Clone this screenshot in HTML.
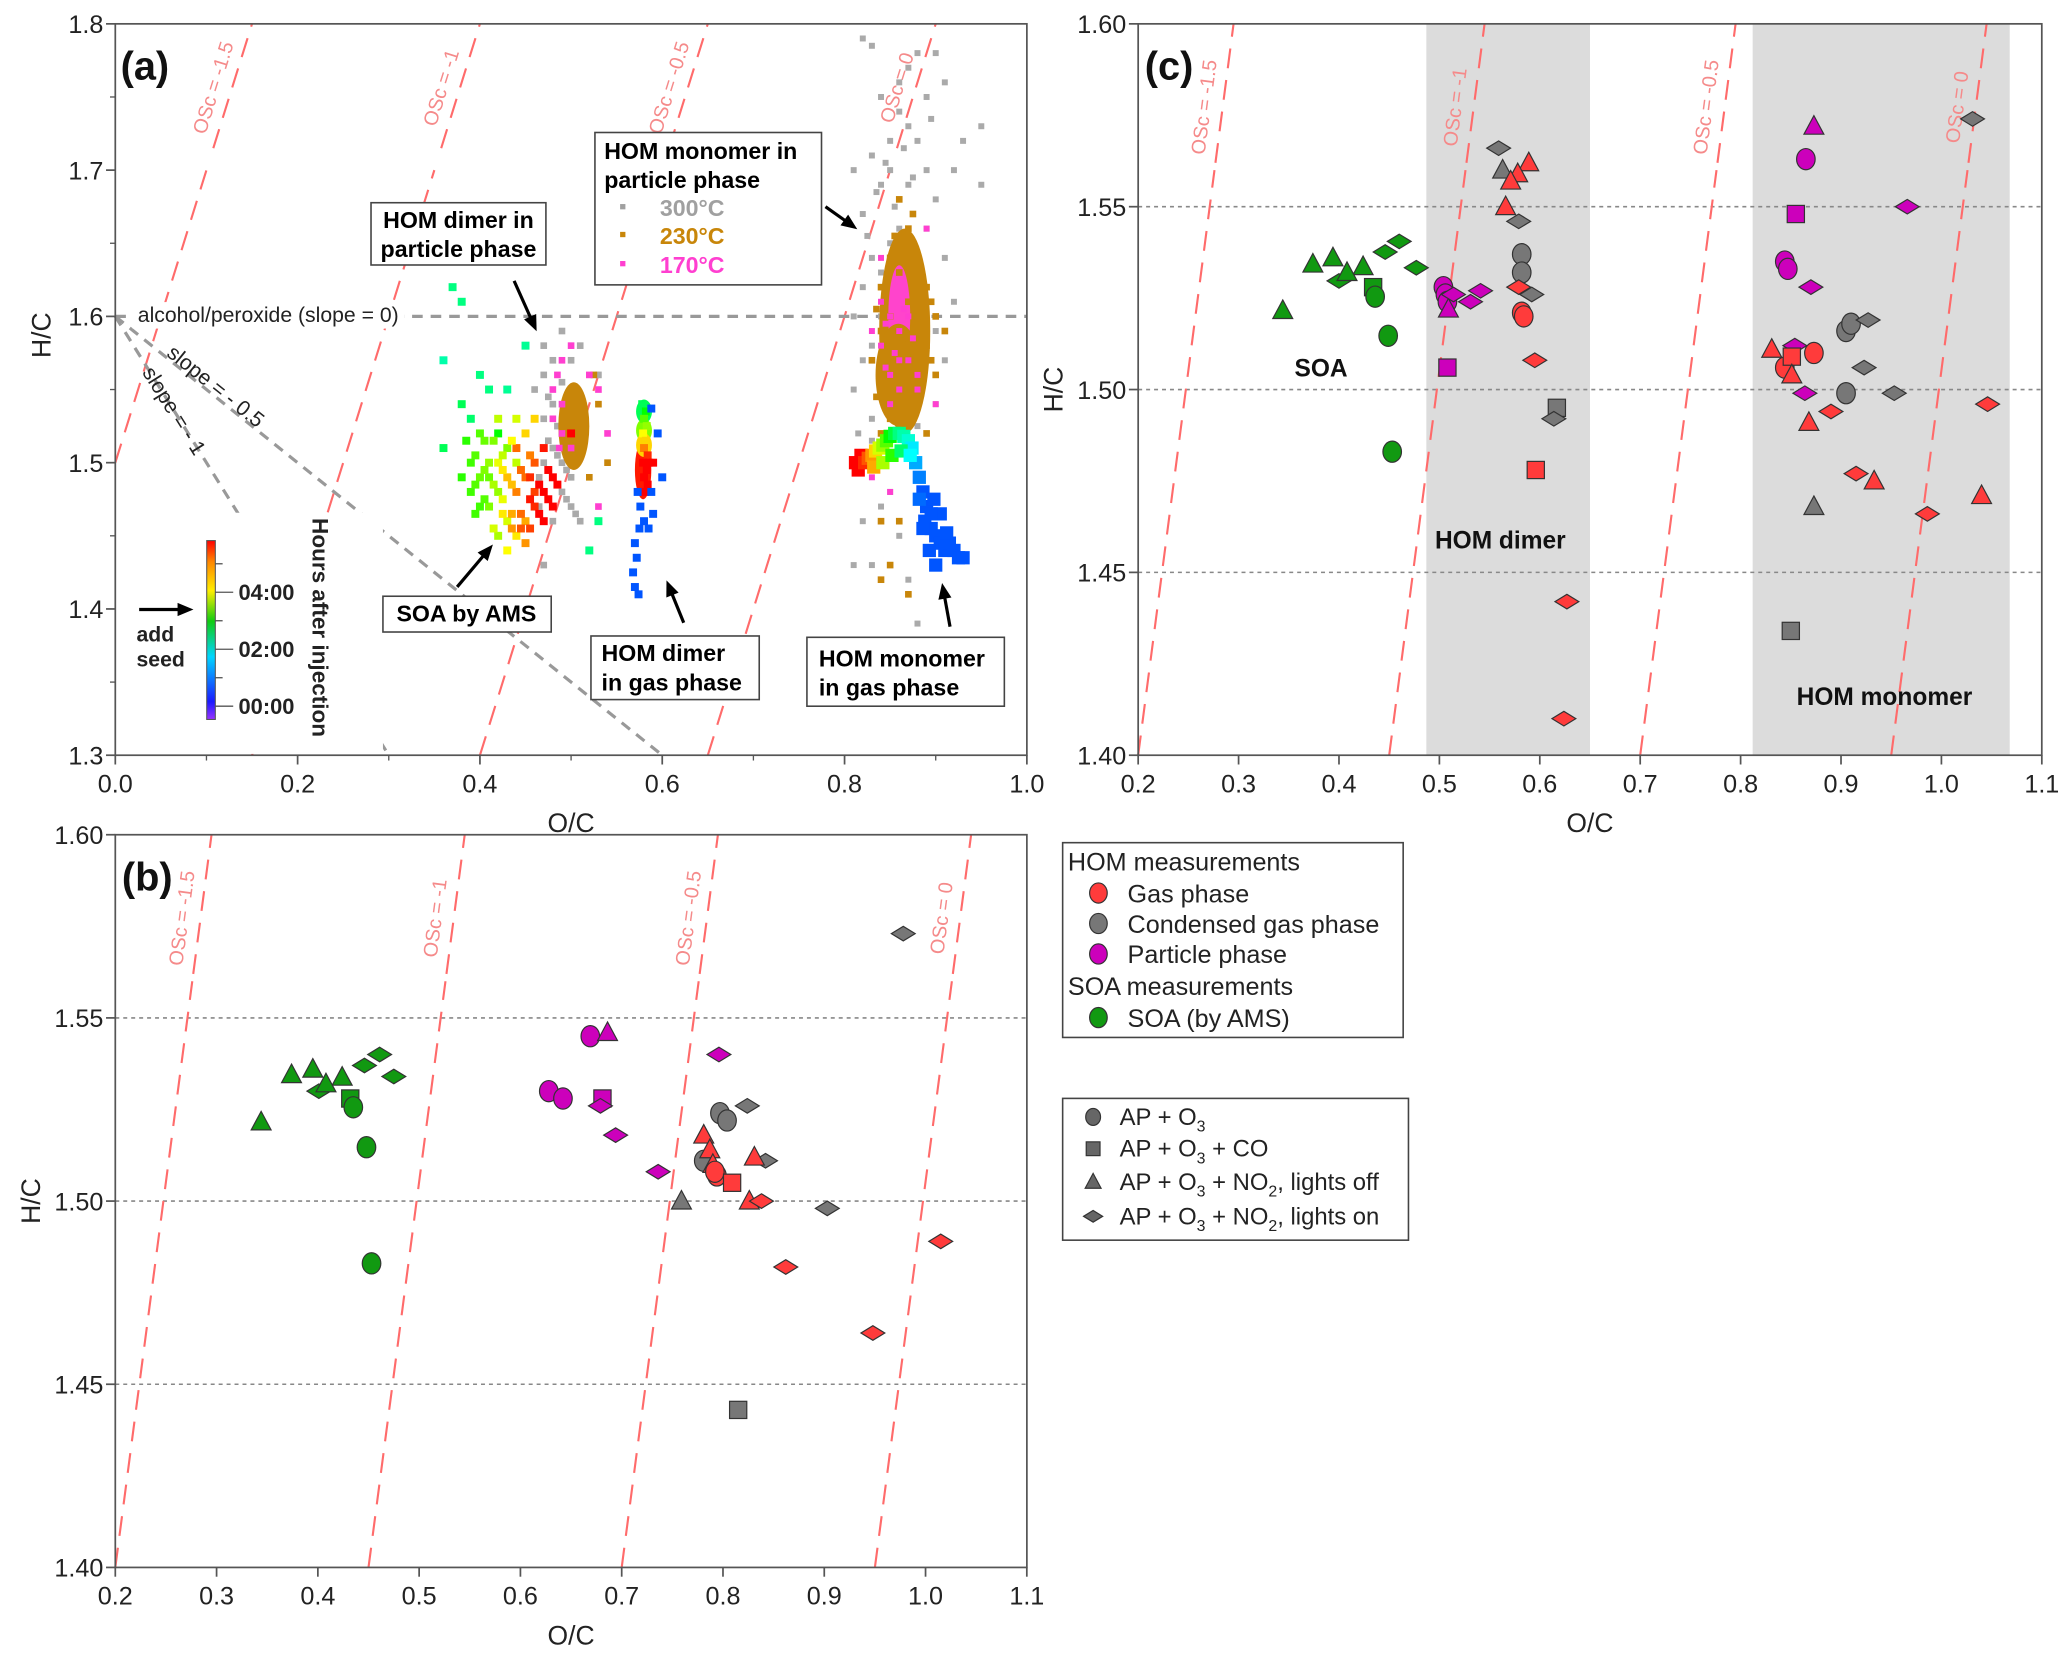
<!DOCTYPE html>
<html><head><meta charset="utf-8"><style>
html,body{margin:0;padding:0;background:#fff}
svg{display:block}
text{font-family:"Liberation Sans",Arial,sans-serif}
</style></head><body>
<svg id="fig" width="2067" height="1657" viewBox="0 0 1560 1250.6" xmlns="http://www.w3.org/2000/svg">
<rect x="0" y="0" width="1560" height="1251" fill="#fff"/>
<g id="pa"></g>
<g id="pc"></g>
<g id="pb"></g>
<g id="lg"></g>
</svg>
<script>
// ---------- DATA ----------
const monoGray=[[0.82,1.79],[0.83,1.785],[0.88,1.78],[0.87,1.77],[0.9,1.78],[0.84,1.75],[0.86,1.74],[0.91,1.76],[0.95,1.73],[0.83,1.71],[0.85,1.72],[0.88,1.72],[0.92,1.70],[0.81,1.70],[0.84,1.69],[0.87,1.69],[0.90,1.68],[0.95,1.69],[0.82,1.67],[0.86,1.66],[0.89,1.66],[0.83,1.64],[0.85,1.65],[0.91,1.64],[0.82,1.62],[0.88,1.62],[0.92,1.61],[0.81,1.60],[0.84,1.60],[0.90,1.59],[0.82,1.57],[0.91,1.57],[0.81,1.55],[0.84,1.55],[0.90,1.54],[0.83,1.53],[0.82,1.46],[0.84,1.47],[0.83,1.43],[0.81,1.43],[0.87,1.42],[0.88,1.39],[0.86,1.45],[0.85,1.48],[0.83,1.50],[0.85,1.70],[0.87,1.73],[0.89,1.75],[0.93,1.72],[0.86,1.68],[0.84,1.63],[0.83,1.58],[0.86,1.76],[0.89,1.70],[0.845,1.705],[0.865,1.715],[0.875,1.695],[0.835,1.685],[0.855,1.675],[0.895,1.735],[0.825,1.655],[0.815,1.52],[0.83,1.515],[0.88,1.525]];
const monoOrange=[[0.86,1.68],[0.87,1.66],[0.85,1.64],[0.88,1.64],[0.86,1.63],[0.84,1.62],[0.89,1.62],[0.87,1.61],[0.85,1.60],[0.88,1.60],[0.84,1.59],[0.86,1.58],[0.89,1.58],[0.85,1.57],[0.87,1.56],[0.84,1.55],[0.88,1.55],[0.86,1.54],[0.85,1.53],[0.87,1.53],[0.89,1.52],[0.84,1.52],[0.90,1.60],[0.90,1.56],[0.83,1.57],[0.86,1.46],[0.84,1.46],[0.85,1.43],[0.87,1.41],[0.84,1.42],[0.91,1.59],[0.86,1.65],[0.88,1.58],[0.85,1.555],[0.87,1.585],[0.835,1.605],[0.895,1.61],[0.895,1.57],[0.835,1.545],[0.875,1.67],[0.855,1.655]];
const monoMagenta=[[0.85,1.60],[0.86,1.59],[0.84,1.58],[0.87,1.57],[0.85,1.56],[0.86,1.55],[0.84,1.61],[0.87,1.60],[0.85,1.54],[0.86,1.57],[0.88,1.55],[0.83,1.59],[0.89,1.66],[0.84,1.64],[0.83,1.49],[0.85,1.48],[0.90,1.54],[0.86,1.52],[0.845,1.595],[0.875,1.585],[0.855,1.575],[0.865,1.605],[0.845,1.565],[0.88,1.56]];
const dimGray=[[0.47,1.58],[0.48,1.57],[0.47,1.56],[0.46,1.55],[0.48,1.54],[0.47,1.53],[0.49,1.52],[0.48,1.51],[0.49,1.50],[0.50,1.49],[0.49,1.48],[0.50,1.47],[0.51,1.46],[0.48,1.49],[0.47,1.50],[0.53,1.56],[0.49,1.59],[0.47,1.43],[0.51,1.58],[0.475,1.545],[0.485,1.525],[0.485,1.505],[0.495,1.495],[0.495,1.475],[0.505,1.465],[0.475,1.515],[0.465,1.49],[0.465,1.47],[0.48,1.46],[0.49,1.555],[0.5,1.57]];
const dimMagenta=[[0.49,1.57],[0.48,1.55],[0.49,1.54],[0.48,1.53],[0.49,1.52],[0.50,1.51],[0.52,1.56],[0.53,1.55],[0.50,1.58],[0.54,1.52],[0.53,1.47],[0.485,1.56],[0.487,1.51]];
const dimOrange=[[0.53,1.54],[0.52,1.49],[0.54,1.50],[0.525,1.56]];
const soaPts=[[0.37,1.62],[0.38,1.61],[0.36,1.57],[0.40,1.56],[0.41,1.55],[0.43,1.55],[0.38,1.54],[0.39,1.53],[0.42,1.52],[0.45,1.58],[0.40,1.52],[0.43,1.51],[0.39,1.50],[0.41,1.49],[0.44,1.50],[0.42,1.48],[0.45,1.49],[0.40,1.47],[0.43,1.46],[0.46,1.47],[0.44,1.45],[0.42,1.45],[0.47,1.48],[0.48,1.49],[0.46,1.50],[0.45,1.52],[0.47,1.51],[0.44,1.53],[0.41,1.50],[0.39,1.48],[0.43,1.44],[0.45,1.46],[0.47,1.46],[0.46,1.53],[0.38,1.49],[0.42,1.50],[0.44,1.48],[0.40,1.49],[0.46,1.48],[0.48,1.47],[0.45,1.445],[0.41,1.47],[0.43,1.49],[0.44,1.51],[0.42,1.53],[0.36,1.51],[0.53,1.46],[0.50,1.52],[0.52,1.44],
[0.395,1.505],[0.405,1.495],[0.415,1.485],[0.425,1.475],[0.435,1.465],[0.445,1.455],[0.455,1.475],[0.465,1.485],[0.475,1.495],[0.455,1.505],[0.435,1.515],[0.425,1.505],[0.415,1.515],[0.405,1.475],[0.395,1.465],[0.415,1.455],[0.435,1.485],[0.445,1.495],[0.455,1.49],[0.465,1.465],[0.425,1.495],[0.385,1.515],[0.405,1.515],[0.435,1.455],[0.455,1.455],[0.445,1.465],[0.425,1.465],[0.475,1.475],[0.485,1.485],[0.395,1.485]];
const soaHrs=[2,2,1.8,2,2,1.9,2.2,2.1,2.6,1.9,3,3.2,2.9,3.1,3.5,3.3,4.5,2.9,3.6,4.8,3.9,3.4,5,5,4.6,4,4.9,3.6,3.3,2.9,3.8,4.2,5,4,2.8,3.7,4.4,3.1,4.7,5,4.3,3.2,4.1,4.5,3.5,2.2,2,5,2,
3,3.2,3.4,3.7,4.2,4.6,4.9,5,5,4.4,3.8,3.5,3.2,3,2.9,3.6,4.1,4.5,4.8,5,3.9,2.8,3.1,4.3,4.7,4.5,3.9,5,5,3];
const gdPts=[[0.578,1.54],[0.582,1.535],[0.580,1.53],[0.583,1.525],[0.579,1.52],[0.582,1.515],[0.580,1.51],[0.584,1.505],[0.579,1.50],[0.583,1.495],[0.580,1.49],[0.584,1.485],[0.581,1.48],[0.585,1.50],[0.590,1.50],[0.600,1.49],[0.576,1.47],[0.580,1.46],[0.575,1.455],[0.570,1.445],[0.572,1.435],[0.568,1.425],[0.570,1.415],[0.574,1.41],[0.590,1.465],[0.585,1.455],[0.595,1.52],[0.588,1.537],[0.573,1.48],[0.588,1.48]];
const gdHrs=[2.2,2.6,3,3.3,3.8,4,4.4,4.8,5,5,5,5,5,5,5,0.6,0.6,0.6,0.6,0.6,0.6,0.6,0.6,0.6,0.6,0.6,0.6,0.6,0.6,0.6];
const gmPts=[[0.812,1.50],[0.815,1.495],[0.818,1.505],[0.822,1.50],[0.826,1.503],[0.830,1.505],[0.834,1.508],[0.838,1.51],[0.842,1.512],[0.846,1.515],[0.850,1.518],[0.855,1.52],[0.860,1.52],[0.865,1.518],[0.870,1.515],[0.874,1.51],[0.878,1.50],[0.882,1.49],[0.886,1.48],[0.890,1.47],[0.888,1.46],[0.895,1.455],[0.900,1.45],[0.905,1.445],[0.910,1.44],[0.915,1.445],[0.920,1.44],[0.925,1.435],[0.893,1.44],[0.905,1.465],[0.898,1.475],[0.912,1.452],[0.930,1.435],[0.900,1.43],[0.886,1.455],[0.832,1.497],[0.842,1.5],[0.852,1.505],[0.862,1.508],[0.872,1.505],[0.882,1.475],[0.895,1.465]];
const gmHrs=[5,5,5,4.8,4.6,4.3,4,3.6,3.3,3,2.6,2.3,2,1.8,1.6,1.3,1,0.8,0.6,0.6,0.6,0.6,0.6,0.6,0.6,0.6,0.6,0.6,0.6,0.6,0.6,0.6,0.6,0.6,0.6,4.2,3.4,2.8,2.1,1.4,0.7,0.6];
const coreOC=[0.503,0.579,0.866,0.860,0.859];
const coreHC=[1.525,1.495,1.59,1.6,1.56];
const coreRX=[0.017,0.009,0.028,0.012,0.025];
const coreRY=[0.03,0.02,0.07,0.035,0.035];
const coreCol=["#c8860a","#ff1a00","#c8860a","#ff44cc","#c8860a"];
const gdCoreHC=[1.535,1.522,1.512];
const gdCoreHr=[2.2,3.2,4];
const cOC=[0.344,0.374,0.394,0.424,0.400,0.408,0.446,0.460,0.477,0.434,0.436,0.449,0.453, 0.504,0.506,0.508,0.509,0.514,0.531,0.541,0.508, 0.559,0.563,0.579,0.582,0.582,0.592,0.617,0.614, 0.589,0.578,0.571,0.566,0.579,0.582,0.584,0.595,0.596,0.627,0.624, 0.873,0.865,0.855,0.966,0.844,0.847,0.870,0.854,0.864, 0.831,0.844,0.873,0.851,0.851,0.890,0.868,0.915,0.933,0.986,1.040,1.046, 0.905,0.910,0.905,0.927,0.923,0.953,0.873,0.850,1.031];
const cHC=[1.5216,1.5343,1.536,1.5336,1.5297,1.532,1.5376,1.5405,1.5333,1.528,1.5254,1.5147,1.483, 1.528,1.526,1.524,1.522,1.526,1.524,1.527,1.506, 1.566,1.560,1.546,1.537,1.532,1.526,1.495,1.492, 1.562,1.559,1.557,1.550,1.528,1.521,1.520,1.508,1.478,1.442,1.410, 1.572,1.563,1.548,1.550,1.535,1.533,1.528,1.512,1.499, 1.511,1.506,1.510,1.509,1.504,1.494,1.491,1.477,1.475,1.466,1.471,1.496, 1.516,1.518,1.499,1.519,1.506,1.499,1.468,1.434,1.574];
const cCol=[3,3,3,3,3,3,3,3,3,3,3,3,3, 2,2,2,2,2,2,2,2, 1,1,1,1,1,1,1,1, 0,0,0,0,0,0,0,0,0,0,0, 2,2,2,2,2,2,2,2,2, 0,0,0,0,0,0,0,0,0,0,0,0, 1,1,1,1,1,1,1,1,1];
const cShp=["t","t","t","t","d","t","d","d","d","s","c","c","c", "c","c","c","t","d","d","d","s", "d","t","d","c","c","d","s","d", "t","t","t","t","d","c","c","d","s","d","d", "t","c","s","d","c","c","d","d","d", "t","c","c","s","t","d","t","d","t","d","t","d", "c","c","c","d","d","d","t","s","d"];
const bOC=[0.344,0.374,0.395,0.424,0.401,0.408,0.446,0.461,0.475,0.432,0.435,0.448,0.453, 0.669,0.686,0.628,0.642,0.681,0.679,0.694,0.796,0.736, 0.978,0.797,0.804,0.824,0.842,0.781,0.759,0.903,0.815, 0.781,0.787,0.790,0.794,0.792,0.809,0.831,0.826,0.838,0.862,0.948,1.015];
const bHC=[1.5216,1.5345,1.536,1.5338,1.530,1.532,1.537,1.540,1.534,1.528,1.5256,1.5147,1.483, 1.545,1.546,1.530,1.528,1.528,1.526,1.518,1.540,1.508, 1.573,1.524,1.522,1.526,1.511,1.511,1.500,1.498,1.443, 1.518,1.514,1.510,1.507,1.508,1.505,1.512,1.500,1.500,1.482,1.464,1.489];
const bCol=[3,3,3,3,3,3,3,3,3,3,3,3,3, 2,2,2,2,2,2,2,2,2, 1,1,1,1,1,1,1,1,1, 0,0,0,0,0,0,0,0,0,0,0,0];
const bShp=["t","t","t","t","d","t","d","d","d","s","c","c","c", "c","t","c","c","s","d","d","d","d", "d","c","c","d","d","c","t","d","s", "t","t","t","c","c","s","t","t","d","d","d","d"];
const oscLevels=[-1.5,-1,-0.5,0];
const oscLabels=["OSc = -1.5","OSc = -1","OSc = -0.5","OSc = 0"];
const bcLineBase=[0.2,0.45,0.7,0.95];
const aXTicks=[0,0.2,0.4,0.6,0.8,1.0];
const aXLabels=["0.0","0.2","0.4","0.6","0.8","1.0"];
const aYTicks=[1.3,1.4,1.5,1.6,1.7,1.8];
const bcXTicks=[0.2,0.3,0.4,0.5,0.6,0.7,0.8,0.9,1.0,1.1];
const bcXLabels=["0.2","0.3","0.4","0.5","0.6","0.7","0.8","0.9","1.0","1.1"];
const bcYTicks=[1.40,1.45,1.50,1.55,1.60];
const bcYLabels=["1.40","1.45","1.50","1.55","1.60"];
const hourTicks=[0,2,4];
const hourLabels=["00:00","02:00","04:00"];

// ---------- helpers ----------
const NS="http://www.w3.org/2000/svg";
function mk(parent,tag,attrs,txt){const e=document.createElementNS(NS,tag);for(const k in attrs)e.setAttribute(k,attrs[k]);if(txt!==undefined)e.textContent=txt;parent.appendChild(e);return e;}
const A={x:v=>87+v*688,y:v=>570-(v-1.3)*1104,l:87,r:775,t:18,b:570};
const C={x:v=>859+(v-0.2)*757.8,y:v=>570-(v-1.4)*2760,l:859,r:1541,t:18,b:570};
const B={x:v=>87+(v-0.2)*764.4,y:v=>1183-(v-1.4)*2765,l:87,r:775,t:630,b:1183};
const COLS=["#ff3b3b","#777777","#cc00bb","#119911"];
function hourColor(h){const hue=Math.max(0,Math.min(260,250*(1-h/5)));return "hsl("+hue+",100%,50%)";}

function axes(g,P,xt,xl,yt,yl,minX,minY){
  const fr=mk(g,"rect",{x:P.l,y:P.t,width:P.r-P.l,height:P.b-P.t,fill:"none",stroke:"#555","stroke-width":1.3});
  
  
  xt.forEach((v,i)=>{const x=P.x(v);
    const t=mk(g,"line",{x1:x,x2:x,y1:P.b,y2:P.b+7,stroke:"#555","stroke-width":1.3});
    
    
    const l=mk(g,"text",{x:x,y:P.b+28,"font-size":19,"text-anchor":"middle",fill:"#222"},xl[i]);
    
    });
  minX.forEach(v=>{const x=P.x(v);mk(g,"line",{x1:x,x2:x,y1:P.b,y2:P.b+4,stroke:"#555","stroke-width":1});});
  yt.forEach((v,i)=>{const y=P.y(v);
    const t=mk(g,"line",{x1:P.l-7,x2:P.l,y1:y,y2:y,stroke:"#555","stroke-width":1.3});
    
    
    const l=mk(g,"text",{x:P.l-9,y:y+7,"font-size":19,"text-anchor":"end",fill:"#222"},yl[i]);
    
    });
  minY.forEach(v=>{const y=P.y(v);mk(g,"line",{x1:P.l-4,x2:P.l,y1:y,y2:y,stroke:"#555","stroke-width":1});});
}
function marker(g,shape,x,y,fill,s){
  s=s||1;let e;
  const st={fill:fill,stroke:"#333","stroke-width":0.9};
  if(shape==="c"){e=mk(g,"ellipse",Object.assign({cx:x,cy:y,rx:7*s,ry:8*s},st));}
  else if(shape==="s"){e=mk(g,"rect",Object.assign({x:x-6.5*s,y:y-6.5*s,width:13*s,height:13*s},st));}
  else if(shape==="t"){e=mk(g,"polygon",Object.assign({points:`${x},${y-8*s} ${x+7.5*s},${y+6*s} ${x-7.5*s},${y+6*s}`},st));}
  else {e=mk(g,"polygon",Object.assign({points:`${x-9*s},${y} ${x},${y-5.5*s} ${x+9*s},${y} ${x},${y+5.5*s}`},st));}
  return e;
}
function oscLine(g,P,x0,y0,x1,y1,lab,gapFrac0,gapFrac1,labFrac){
  const X0=P.x(x0),Y0=P.y(y0),X1=P.x(x1),Y1=P.y(y1);
  const ax=X0+(X1-X0)*gapFrac0, ay=Y0+(Y1-Y0)*gapFrac0, bx=X0+(X1-X0)*gapFrac1, by=Y0+(Y1-Y0)*gapFrac1;
  const l1=mk(g,"line",{x1:X0,y1:Y0,x2:ax,y2:ay,stroke:"#ff6b6b","stroke-width":1.6,"stroke-dasharray":"15 9"});
  
  
  mk(g,"line",{x1:bx,y1:by,x2:X1,y2:Y1,stroke:"#ff6b6b","stroke-width":1.6,"stroke-dasharray":"15 9"});
  const ang=Math.atan2(Y1-Y0,X1-X0)*180/Math.PI;
  const mx=X0+(X1-X0)*labFrac-9, my=Y0+(Y1-Y0)*labFrac;
  const t=mk(g,"text",{x:mx,y:my,"font-size":15,fill:"#f58a8a","text-anchor":"middle",transform:`rotate(${ang} ${mx} ${my})`},lab);
  
  
}
function box(g,x,y,w,h,name){const r=mk(g,"rect",{x:x,y:y,width:w,height:h,fill:"#fff",stroke:"#444","stroke-width":1.2});return r;}
function arrow(g,x1,y1,x2,y2){
  const a=Math.atan2(y2-y1,x2-x1),L=12,W=5;
  const l=mk(g,"line",{x1:x1,y1:y1,x2:x2-Math.cos(a)*L*0.8,y2:y2-Math.sin(a)*L*0.8,stroke:"#000","stroke-width":2.4});
  
  
  const bx=x2-Math.cos(a)*L,by=y2-Math.sin(a)*L;
  mk(g,"polygon",{points:`${x2},${y2} ${bx-Math.sin(a)*W},${by+Math.cos(a)*W} ${bx+Math.sin(a)*W},${by-Math.cos(a)*W}`,fill:"#000"});
}

// ---------- PANEL A ----------
(function(){
const g=document.getElementById("pa");
oscLevels.forEach((o,i)=>{
  let hLo=1.3,hHi=1.8;let xLo=(hLo+o)/2;if(xLo<0){hLo=-o;xLo=0;}
  const xHi=(hHi+o)/2;
  const f=h=>(h-hLo)/(hHi-hLo);
  oscLine(g,A,xLo,hLo,xHi,hHi,oscLabels[i],f(1.70),f(1.715),f(1.755));
});
const d="8 6";
let s0=mk(g,"line",{x1:A.x(0),y1:A.y(1.6),x2:A.x(1),y2:A.y(1.6),stroke:"#999","stroke-width":2.4,"stroke-dasharray":d});


let s1=mk(g,"line",{x1:A.x(0),y1:A.y(1.6),x2:A.x(0.6),y2:A.y(1.3),stroke:"#999","stroke-width":2.4,"stroke-dasharray":d});


let s2=mk(g,"line",{x1:A.x(0),y1:A.y(1.6),x2:A.x(0.3),y2:A.y(1.3),stroke:"#999","stroke-width":2.4,"stroke-dasharray":d});


mk(g,"rect",{x:100,y:228,width:205,height:20,fill:"#fff"});
let t0=mk(g,"text",{x:104,y:243,"font-size":16,fill:"#222"},"alcohol/peroxide (slope = 0)");


let t1=mk(g,"text",{x:0,y:0,"font-size":16,fill:"#222",transform:"translate(125,268) rotate(38.7)"},"slope = - 0.5");


let t2=mk(g,"text",{x:0,y:0,"font-size":16,fill:"#222",transform:"translate(107,281) rotate(58)"},"slope = - 1");


mk(g,"rect",{x:153,y:387,width:136,height:182,fill:"#fff"});
const sq=(pts,col,name,sz)=>{const gg=mk(g,"g",{});
  pts.forEach(p=>{mk(gg,"rect",{x:A.x(p[0])-sz/2,y:A.y(p[1])-sz/2,width:sz,height:sz,fill:col});});};
sq(monoGray,"#aaaaaa","monomer-300C-points",4.5);
sq(dimGray,"#aaaaaa","dimer-300C-points",5);
coreOC.forEach((v,i)=>{const e=mk(g,"ellipse",{cx:A.x(v),cy:A.y(coreHC[i]),rx:coreRX[i]*688,ry:coreRY[i]*1104,fill:coreCol[i]});
  
  });
gdCoreHC.forEach((v,i)=>{const e=mk(g,"ellipse",{cx:A.x(0.58),cy:A.y(v),rx:6,ry:9,fill:hourColor(gdCoreHr[i])});
  
  });
sq(monoOrange,"#c8860a","monomer-230C-points",5);
sq(dimOrange,"#c8860a","dimer-230C-points",5);
sq(monoMagenta,"#ff3fd0","monomer-170C-points",4.5);
sq(dimMagenta,"#ff3fd0","dimer-170C-points",5);
const hp=(pts,hrs,name,sz)=>{const gg=mk(g,"g",{});
  pts.forEach((p,i)=>{mk(gg,"rect",{x:A.x(p[0])-sz/2,y:A.y(p[1])-sz/2,width:sz,height:sz,fill:hourColor(hrs[i])});});};
hp(soaPts,soaHrs,"soa-ams-points",6);
hp(gdPts,gdHrs,"gas-dimer-points",6);
hp(gmPts,gmHrs,"gas-monomer-points",10);
axes(g,A,aXTicks,aXLabels,aYTicks,aYTicks.map(v=>v.toFixed(1)),[0.1,0.3,0.5,0.7,0.9],[1.35,1.45,1.55,1.65,1.75]);
let xl=mk(g,"text",{x:431,y:628,"font-size":20,"text-anchor":"middle",fill:"#222"},"O/C");
let yl=mk(g,"text",{x:0,y:0,"font-size":20,"text-anchor":"middle",fill:"#222",transform:"translate(38,253) rotate(-90)"},"H/C");
let pl=mk(g,"text",{x:91,y:60,"font-size":30,"font-weight":"bold",fill:"#111"},"(a)");
const defs=mk(g,"defs",{});const lg=mk(defs,"linearGradient",{id:"hg",x1:0,y1:1,x2:0,y2:0});
[[0,"#9933ff"],[0.1,"#1a1aff"],[0.35,"#00d5ff"],[0.55,"#11cc11"],[0.72,"#ffee00"],[0.88,"#ff8800"],[1,"#ff0000"]].forEach(s=>mk(lg,"stop",{offset:s[0],"stop-color":s[1]}));
let cb=mk(g,"rect",{x:156,y:408,width:6.5,height:135,fill:"url(#hg)",stroke:"#555","stroke-width":0.8});

const hy=h=>533-h*21.5;
[1,3,5].forEach(h=>mk(g,"line",{x1:162.5,x2:168,y1:hy(h),y2:hy(h),stroke:"#555","stroke-width":1}));
hourTicks.forEach((h,i)=>{mk(g,"line",{x1:162.5,x2:176,y1:hy(h),y2:hy(h),stroke:"#555","stroke-width":1});
  const t=mk(g,"text",{x:180,y:hy(h)+6,"font-size":16.5,"font-weight":"bold",fill:"#222"},hourLabels[i]);
  });
let ht=mk(g,"text",{x:0,y:0,"font-size":17,"font-weight":"bold",fill:"#222",transform:"translate(236,391) rotate(90)"},"Hours after injection");

arrow(g,105,460,146,460);
let as=mk(g,"text",{x:103,y:484,"font-size":16,"font-weight":"bold",fill:"#222"},"add");
mk(g,"text",{x:103,y:503,"font-size":16,"font-weight":"bold",fill:"#222"},"seed");
box(g,280,153,132,47,"dimer-particle-box");
mk(g,"text",{x:346,y:172,"font-size":17.5,"font-weight":"bold","text-anchor":"middle"},"HOM dimer in");
mk(g,"text",{x:346,y:194,"font-size":17.5,"font-weight":"bold","text-anchor":"middle"},"particle phase");
arrow(g,388,212,405,250);
box(g,449,100,171,115,"monomer-particle-legend-box");
mk(g,"text",{x:456,y:120,"font-size":17.5,"font-weight":"bold"},"HOM monomer in");
mk(g,"text",{x:456,y:142,"font-size":17.5,"font-weight":"bold"},"particle phase");
[["300","#a0a0a0",163],["230","#c8860a",184],["170","#ff3fd0",206]].forEach(r=>{
  mk(g,"rect",{x:468,y:r[2]-9,width:4,height:4,fill:r[1]});
  const t=mk(g,"text",{x:498,y:r[2],"font-size":17.5,"font-weight":"bold",fill:r[1]},r[0]+"\u00b0C");
  });
arrow(g,623,156,647,173);
box(g,289,450,127,27,"soa-ams-box");
mk(g,"text",{x:352,y:469,"font-size":17.5,"font-weight":"bold","text-anchor":"middle"},"SOA by AMS");
arrow(g,345,443,372,411);
box(g,446,480,127,48,"dimer-gas-box");
mk(g,"text",{x:454,y:499,"font-size":17.5,"font-weight":"bold"},"HOM dimer");
mk(g,"text",{x:454,y:521,"font-size":17.5,"font-weight":"bold"},"in gas phase");
arrow(g,516,470,503,438);
box(g,609,481,149,52,"monomer-gas-box");
mk(g,"text",{x:618,y:503,"font-size":17.5,"font-weight":"bold"},"HOM monomer");
mk(g,"text",{x:618,y:525,"font-size":17.5,"font-weight":"bold"},"in gas phase");
arrow(g,717,473,711,440);
})();

// ---------- PANELS B & C ----------
function bcPanel(id,P,OC,HC,COL,SHP,label,shade){
  const g=document.getElementById(id);
  if(shade){[[0.487,0.65],[0.812,1.068]].forEach(s=>{const r=mk(g,"rect",{x:P.x(s[0]),y:P.t,width:P.x(s[1])-P.x(s[0]),height:P.b-P.t,fill:"#dcdcdc"});
    });}
  [1.45,1.50,1.55].forEach(v=>{const l=mk(g,"line",{x1:P.l,x2:P.r,y1:P.y(v),y2:P.y(v),stroke:"#888","stroke-width":1.2,"stroke-dasharray":"3 3"});
    });
  bcLineBase.forEach((x0,i)=>oscLine(g,P,x0,1.40,x0+0.095,1.60,oscLabels[i],0.8,0.81,0.885));
  axes(g,P,bcXTicks,bcXLabels,bcYTicks,bcYLabels,[],[]);
  OC.forEach((v,i)=>{const e=marker(g,SHP[i],P.x(v),P.y(HC[i]),COLS[COL[i]]);
    
    });
  const lab=mk(g,"text",{x:P.l+5,y:P.t+42,"font-size":30,"font-weight":"bold",fill:"#111"},label);
  
  const xl=mk(g,"text",{x:(P.l+P.r)/2,y:P.b+58,"font-size":20,"text-anchor":"middle",fill:"#222"},"O/C");
  
  const yly=(P.t+P.b)/2;
  const yl=mk(g,"text",{x:0,y:0,"font-size":20,"text-anchor":"middle",fill:"#222",transform:`translate(${P.l-57},${yly}) rotate(-90)`},"H/C");
  
  return g;
}
const gc=bcPanel("pc",C,cOC,cHC,cCol,cShp,"(c)",true);
[["SOA",977,284],["HOM dimer",1083,414],["HOM monomer",1356,532]].forEach(r=>{const t=mk(gc,"text",{x:r[1],y:r[2],"font-size":18.5,"font-weight":"bold",fill:"#111"},r[0]);
  });
bcPanel("pb",B,bOC,bHC,bCol,bShp,"(b)",false);

// ---------- LEGENDS ----------
(function(){
const g=document.getElementById("lg");
box(g,802,636,257,147,"phase-legend");
mk(g,"text",{x:806,y:657,"font-size":19,fill:"#222"},"HOM measurements");
[["Gas phase",0,674],["Condensed gas phase",1,697],["Particle phase",2,720]].forEach(r=>{
  const e=marker(g,"c",829,r[2],COLS[r[1]],0.95);
  const t=mk(g,"text",{x:851,y:r[2]+7,"font-size":19,fill:"#222"},r[0]);});
mk(g,"text",{x:806,y:751,"font-size":19,fill:"#222"},"SOA measurements");
const e=marker(g,"c",829,768,COLS[3],0.95);
let t=mk(g,"text",{x:851,y:775,"font-size":19,fill:"#222"},"SOA (by AMS)");
box(g,802,829,261,107,"system-legend");
const rows=[["c",843,"AP + O","3",""],["s",867," AP + O","3"," + CO"],["t",892,"AP + O","3"," + NO"],["d",918,"AP + O","3"," + NO"]];
rows.forEach((r,i)=>{
  const m=marker(g,r[0],825,r[1],"#666",0.8);
  const tx=mk(g,"text",{x:845,y:r[1]+6,"font-size":18,fill:"#222"});
  
  tx.appendChild(document.createTextNode(r[2]));
  mk(tx,"tspan",{"font-size":12,dy:5},r[3]);
  mk(tx,"tspan",{dy:-5},r[4]);
  if(i>=2){mk(tx,"tspan",{"font-size":12,dy:5},"2");mk(tx,"tspan",{dy:-5},i===2?", lights off":", lights on");}
});
})();
</script>
</body></html>
